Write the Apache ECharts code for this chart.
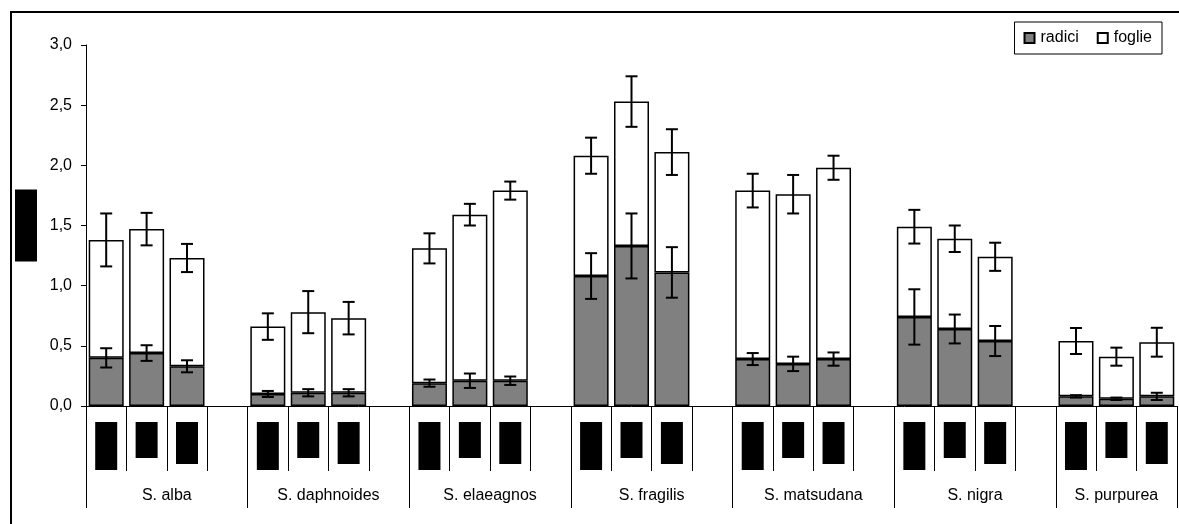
<!DOCTYPE html>
<html>
<head>
<meta charset="utf-8">
<script src="https://cdn.jsdelivr.net/npm/echarts@6/dist/echarts.min.js"></script>
<style>
  html, body { margin: 0; padding: 0; background: #fff; }
  #chart { width: 1179px; height: 524px; }
</style>
</head>
<body>
<div id="chart"></div>
<script>
// species groups: three bars each, with an empty spacer slot between groups
const species = ['S. alba', 'S. daphnoides', 'S. elaeagnos', 'S. fragilis', 'S. matsudana', 'S. nigra', 'S. purpurea']

// stacked values, three per species
const radici = [0.40, 0.44, 0.33, 0.10, 0.11, 0.11, 0.19, 0.21, 0.21, 1.08, 1.33, 1.11, 0.39, 0.35, 0.39, 0.74, 0.64, 0.54, 0.08, 0.06, 0.08]
const radiciErr = [0.08, 0.065, 0.05, 0.025, 0.03, 0.03, 0.03, 0.06, 0.035, 0.19, 0.27, 0.21, 0.05, 0.06, 0.055, 0.23, 0.12, 0.125, 0.01, 0.01, 0.03]
const foglie = [0.98, 1.03, 0.90, 0.56, 0.67, 0.62, 1.12, 1.38, 1.58, 1.00, 1.20, 1.00, 1.40, 1.41, 1.59, 0.75, 0.75, 0.70, 0.46, 0.35, 0.45]
const foglieErr = [0.22, 0.135, 0.117, 0.11, 0.175, 0.135, 0.125, 0.09, 0.075, 0.15, 0.21, 0.19, 0.14, 0.16, 0.10, 0.14, 0.11, 0.117, 0.108, 0.075, 0.12]

// build the slot axis (spacer after every group but the last)
const slots = []
const radiciData = []
const foglieData = []
const errData = []
const groupEdges = [0]
const groupCenters = []
species.forEach(function (sp, g) {
  const start = slots.length
  const n = g < species.length - 1 ? 4 : 3
  for (let k = 0; k < n; k++) {
    const idx = slots.length
    slots.push(sp + '#' + k)
    if (k < 3) {
      const i = g * 3 + k
      radiciData.push(radici[i])
      foglieData.push(foglie[i])
      errData.push([idx, radici[i], radiciErr[i]])
      errData.push([idx, radici[i] + foglie[i], foglieErr[i]])
    } else {
      radiciData.push(null)
      foglieData.push(null)
    }
  }
  groupEdges.push(slots.length)
  groupCenters.push((start + slots.length) / 2)
})

const chart = echarts.init(document.getElementById('chart'))

const option = {
  animation: false,
  backgroundColor: '#fff',
  textStyle: { fontFamily: 'Liberation Sans, Arial, sans-serif' },
  graphic: [{
    type: 'rect',
    shape: { x: 11, y: 12, width: 1400, height: 800 },
    style: { fill: 'none', stroke: '#000', lineWidth: 2 },
    silent: true
  }],
  legend: {
    right: 17,
    top: 22,
    data: ['radici', 'foglie'],
    icon: 'rect',
    itemWidth: 10,
    itemHeight: 10,
    itemGap: 18,
    padding: [8, 10, 8, 9],
    borderColor: '#000',
    borderWidth: 1,
    backgroundColor: '#fff',
    textStyle: { fontSize: 16, color: '#000', padding: [0, 0, 0, 1] }
  },
  grid: {
    left: 86,
    right: 2,
    top: 45,
    bottom: 118,
    containLabel: false,
    outerBoundsMode: 'none'
  },
  xAxis: [{
    type: 'category',
    position: 'bottom',
    data: slots,
    axisLine: { lineStyle: { color: '#000', width: 1 } },
    axisTick: { show: true, interval: 0, length: 65, lineStyle: { color: '#000', width: 1 } },
    axisLabel: {
      interval: 0,
      margin: 16,
      verticalAlign: 'top',
      formatter: function (val, idx) {
        const k = idx % 4
        return k < 3 ? '{h' + k + '|\u00a0}' : ''
      },
      rich: {
        h0: { width: 22, height: 48, backgroundColor: '#000' },
        h1: { width: 22, height: 36, backgroundColor: '#000' },
        h2: { width: 22, height: 42, backgroundColor: '#000' }
      }
    },
    splitLine: { show: false }
  }, {
    type: 'value',
    position: 'bottom',
    min: 0,
    max: slots.length,
    axisLine: { show: false },
    axisTick: {
      show: true,
      customValues: groupEdges,
      length: 102,
      lineStyle: { color: '#000', width: 1 }
    },
    axisLabel: {
      customValues: groupCenters,
      margin: 82,
      fontSize: 16,
      color: '#000',
      formatter: function (v) {
        const g = groupCenters.indexOf(v)
        return g >= 0 ? species[g] : ''
      }
    },
    splitLine: { show: false }
  }],
  yAxis: {
    type: 'value',
    min: 0,
    max: 3,
    interval: 0.5,
    name: '{b|\u00a0}',
    nameLocation: 'middle',
    nameRotate: 90,
    nameGap: 49,
    nameTextStyle: {
      rich: { b: { width: 72, height: 22, backgroundColor: '#000' } }
    },
    axisLine: { show: true, lineStyle: { color: '#000', width: 1 } },
    axisTick: { show: true, length: 5, lineStyle: { color: '#000' } },
    axisLabel: {
      margin: 14,
      fontSize: 16,
      color: '#000',
      formatter: function (v) { return v.toFixed(1).replace('.', ',') }
    },
    splitLine: { show: false }
  },
  series: [{
    name: 'radici',
    type: 'bar',
    stack: 'tot',
    barWidth: 35,
    data: radiciData,
    itemStyle: { color: '#808080', borderColor: '#000', borderWidth: 1.5 }
  }, {
    name: 'foglie',
    type: 'bar',
    stack: 'tot',
    barWidth: 35,
    data: foglieData,
    itemStyle: { color: '#fff', borderColor: '#000', borderWidth: 1.5 }
  }, {
    name: 'err',
    type: 'custom',
    z: 10,
    data: errData,
    renderItem: function (params, api) {
      const x = api.value(0)
      const c = api.value(1)
      const e = api.value(2)
      const top = api.coord([x, c + e])
      const bot = api.coord([x, c - e])
      const half = 6
      const style = { stroke: '#000', lineWidth: 2 }
      return {
        type: 'group',
        children: [
          { type: 'line', shape: { x1: top[0], y1: top[1], x2: bot[0], y2: bot[1] }, style: style },
          { type: 'line', shape: { x1: top[0] - half, y1: top[1], x2: top[0] + half, y2: top[1] }, style: style },
          { type: 'line', shape: { x1: bot[0] - half, y1: bot[1], x2: bot[0] + half, y2: bot[1] }, style: style }
        ]
      }
    }
  }]
}

chart.setOption(option)
</script>
</body>
</html>
